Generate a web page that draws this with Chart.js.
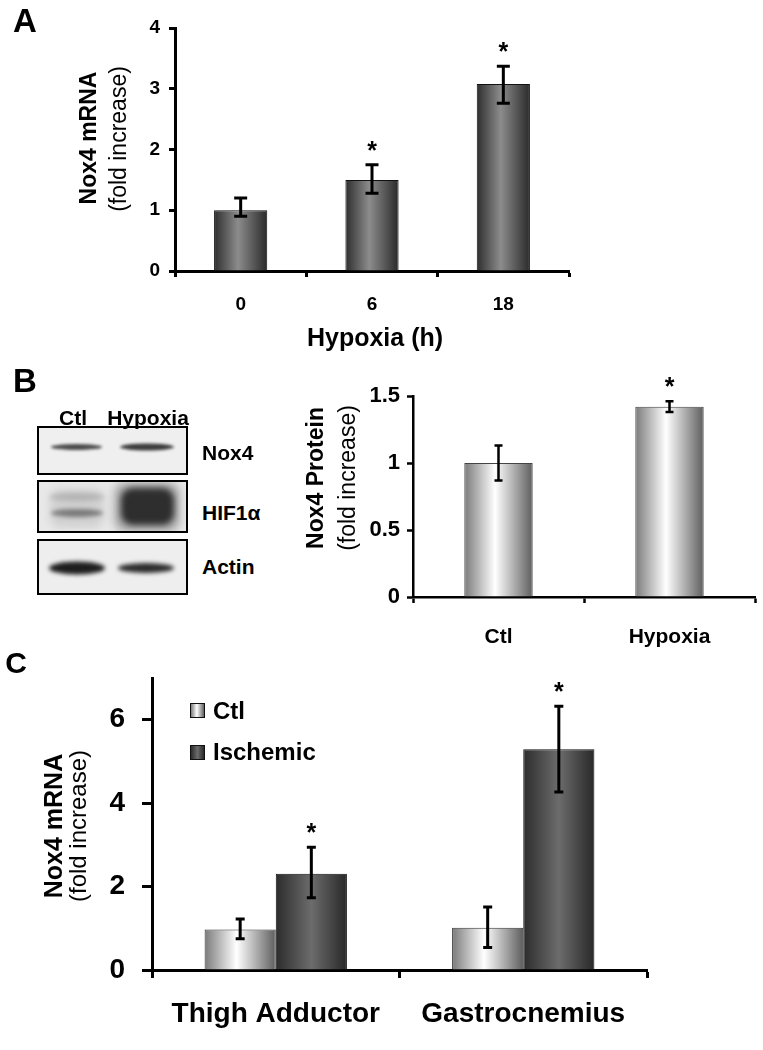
<!DOCTYPE html>
<html>
<head>
<meta charset="utf-8">
<script src="https://cdn.jsdelivr.net/npm/chart.js@4.4.1/dist/chart.umd.min.js"></script>
<style>
  body { margin: 0; background: #fff; font-family: "Liberation Sans", Arial, sans-serif; }
  #page { position: relative; width: 763px; height: 1050px; overflow: hidden; }
  .box { position: absolute; }
  .t { position: absolute; white-space: nowrap; line-height: 1; color: #000; transform: translate(-50%, -50%); }
  .b { font-weight: bold; }
  .rot { transform: translate(-50%, -50%) rotate(-90deg); }
  .sq { position: absolute; width: 13px; height: 13px; border: 1px solid #111; }
</style>
</head>
<body>
<div id="page">
  <div class="box" style="left:0;top:0;width:600px;height:340px"><canvas id="chartA"></canvas></div>
  <div class="box" style="left:300px;top:340px;width:463px;height:320px"><canvas id="chartB"></canvas></div>
  <div class="box" style="left:0;top:640px;width:700px;height:410px"><canvas id="chartC"></canvas></div>
  <canvas id="blot" width="200" height="200" style="position:absolute;left:0;top:400px"></canvas>

  <!-- panel letters -->
  <div class="t b" style="left:25px;top:20px;font-size:33px">A</div>
  <div class="t b" style="left:25px;top:380px;font-size:33px">B</div>
  <div class="t b" style="left:16px;top:663px;font-size:30px">C</div>

  <!-- panel A titles -->
  <div class="t b rot" style="left:88px;top:138px;font-size:23px">Nox4 mRNA</div>
  <div class="t rot" style="left:118px;top:139px;font-size:23px">(fold increase)</div>
  <div class="t b" style="left:375px;top:337px;font-size:25px">Hypoxia (h)</div>

  <!-- panel B blot labels and titles -->
  <div class="t b" style="left:73px;top:417px;font-size:21px">Ctl</div>
  <div class="t b" style="left:148px;top:417px;font-size:21px">Hypoxia</div>
  <div class="t b" style="left:202px;top:452px;font-size:21px;transform:translate(0,-50%)">Nox4</div>
  <div class="t b" style="left:202px;top:512px;font-size:21px;transform:translate(0,-50%)">HIF1α</div>
  <div class="t b" style="left:202px;top:566px;font-size:21px;transform:translate(0,-50%)">Actin</div>
  <div class="t b rot" style="left:315px;top:478px;font-size:23px">Nox4 Protein</div>
  <div class="t rot" style="left:347px;top:478px;font-size:23px">(fold increase)</div>

  <!-- panel C titles and legend -->
  <div class="t b rot" style="left:53px;top:826px;font-size:25px">Nox4 mRNA</div>
  <div class="t rot" style="left:78px;top:826px;font-size:24px">(fold increase)</div>
  <div class="sq" style="left:190px;top:703px;background:linear-gradient(to right,#7a7a7a,#fff 45%,#5e5e5e)"></div>
  <div class="t b" style="left:213px;top:711px;font-size:24px;transform:translate(0,-50%)">Ctl</div>
  <div class="sq" style="left:190px;top:745px;background:linear-gradient(to right,#2c2c2c,#6c6c6c 50%,#282828)"></div>
  <div class="t b" style="left:213px;top:752px;font-size:24px;transform:translate(0,-50%)">Ischemic</div>
</div>

<script>
const fontFam = '"Liberation Sans", Arial, sans-serif';

// A: Nox4 mRNA after hours of hypoxia
const hours = ['0', '6', '18'];
const mrnaFold = [1.0, 1.5, 3.08];
const mrnaHi = [1.2, 1.75, 3.37];
const mrnaLo = [0.9, 1.28, 2.76];
const mrnaStar = [false, true, true];
const ticksA = [0, 1, 2, 3, 4];
const tickLabelsA = ['0', '1', '2', '3', '4'];

// B: Nox4 protein
const groupsB = ['Ctl', 'Hypoxia'];
const proteinFold = [1.0, 1.42];
const proteinHi = [1.13, 1.46];
const proteinLo = [0.87, 1.38];
const proteinStar = [false, true];
const ticksB = [0, 0.5, 1, 1.5];
const tickLabelsB = ['0', '0.5', '1', '1.5'];

// C: Nox4 mRNA in muscle, control vs ischemic
const muscles = ['Thigh Adductor', 'Gastrocnemius'];
const ctlFold = [0.97, 1.01];
const ctlHi = [1.22, 1.51];
const ctlLo = [0.75, 0.54];
const ctlStar = [false, false];
const ischFold = [2.31, 5.29];
const ischHi = [2.94, 6.32];
const ischLo = [1.73, 4.27];
const ischStar = [true, true];
const ticksC = [0, 2, 4, 6];
const tickLabelsC = ['0', '2', '4', '6'];

const darkStops = [[0, '#2e2e2e'], [0.45, '#8c8c8c'], [1, '#2a2a2a']];
const lightStops = [[0, '#7a7a7a'], [0.45, '#ffffff'], [1, '#5e5e5e']];
const ischStops = [[0, '#2c2c2c'], [0.5, '#6c6c6c'], [1, '#282828']];

// gradient fill per bar + error bars + asterisks
function decor(o) {
  return {
    id: 'decor',
    beforeDatasetDraw(chart, args) {
      const ctx = chart.ctx;
      const stops = o.stops[args.index];
      args.meta.data.forEach(bar => {
        const g = ctx.createLinearGradient(bar.x - bar.width / 2, 0, bar.x + bar.width / 2, 0);
        stops.forEach(s => g.addColorStop(s[0], s[1]));
        bar.options.backgroundColor = g;
      });
    },
    afterDatasetsDraw(chart) {
      const ctx = chart.ctx, y = chart.scales.y;
      ctx.save();
      ctx.strokeStyle = '#000';
      ctx.fillStyle = '#000';
      ctx.lineWidth = o.errW;
      ctx.font = 'bold 25px ' + fontFam;
      ctx.textAlign = 'center';
      o.err.forEach((e, d) => {
        chart.getDatasetMeta(d).data.forEach((bar, i) => {
          const top = y.getPixelForValue(e.hi[i]);
          const bot = y.getPixelForValue(e.lo[i]);
          const c = o.cap / 2;
          ctx.beginPath();
          ctx.moveTo(bar.x, top); ctx.lineTo(bar.x, bot);
          ctx.moveTo(bar.x - c, top); ctx.lineTo(bar.x + c, top);
          ctx.moveTo(bar.x - c, bot); ctx.lineTo(bar.x + c, bot);
          ctx.stroke();
          if (e.star[i]) ctx.fillText('*', bar.x, top - 6);
        });
      });
      ctx.restore();
    }
  };
}

function barChart(id, o) {
  const tickFont = size => ({ family: fontFam, size: size, weight: 'bold' });
  return new Chart(document.getElementById(id), {
    type: 'bar',
    data: { labels: o.labels, datasets: o.datasets },
    options: {
      responsive: true,
      maintainAspectRatio: false,
      animation: false,
      events: [],
      layout: { padding: { top: o.padTop, right: o.padRight, left: 0, bottom: 0 } },
      plugins: { legend: { display: false }, tooltip: { enabled: false } },
      scales: {
        x: {
          grid: { drawOnChartArea: false, tickLength: o.xTick, tickWidth: o.axisW, tickColor: '#000', color: '#000' },
          border: { color: '#000', width: o.axisW },
          ticks: { color: '#000', padding: o.xPad, font: tickFont(o.xFont), maxRotation: 0, autoSkip: false },
          afterFit: s => { s.height = o.xH; }
        },
        y: {
          min: o.ticks[0],
          max: o.max,
          grid: { drawOnChartArea: false, tickLength: o.yTick, tickWidth: o.axisW, tickColor: '#000', color: '#000' },
          border: { color: '#000', width: o.axisW },
          ticks: { color: '#000', padding: o.yPad, font: tickFont(o.yFont),
                   callback: (v, i) => o.tickLabels[i] },
          afterBuildTicks: s => { s.ticks = o.ticks.map(v => ({ value: v })); },
          afterFit: s => { s.width = o.yW; }
        }
      }
    },
    plugins: [decor(o)]
  });
}

const flat = () => '#888';

barChart('chartA', {
  labels: hours,
  datasets: [{ data: mrnaFold, backgroundColor: flat, borderColor: '#111', borderWidth: 1,
               barPercentage: 0.405, categoryPercentage: 1 }],
  stops: [darkStops],
  err: [{ hi: mrnaHi, lo: mrnaLo, star: mrnaStar }],
  errW: 3, cap: 13,
  ticks: ticksA, tickLabels: tickLabelsA, max: 4,
  padTop: 28, padRight: 31, yW: 175, xH: 69,
  axisW: 3, xTick: 6, yTick: 6, xPad: 16, yPad: 9, xFont: 19, yFont: 19
});

barChart('chartB', {
  labels: groupsB,
  datasets: [{ data: proteinFold, backgroundColor: flat, borderColor: '#444', borderWidth: 1,
               barPercentage: 0.4, categoryPercentage: 1 }],
  stops: [lightStops],
  err: [{ hi: proteinHi, lo: proteinLo, star: proteinStar }],
  errW: 2.5, cap: 8,
  ticks: ticksB, tickLabels: tickLabelsB, max: 1.5,
  padTop: 56, padRight: 8, yW: 113, xH: 63,
  axisW: 2.5, xTick: 6, yTick: 6, xPad: 22, yPad: 7, xFont: 21, yFont: 22
});

barChart('chartC', {
  labels: muscles,
  datasets: [
    { data: ctlFold, backgroundColor: flat, borderColor: '#333', borderWidth: 1,
      barPercentage: 1, categoryPercentage: 0.575 },
    { data: ischFold, backgroundColor: flat, borderColor: '#111', borderWidth: 1,
      barPercentage: 1, categoryPercentage: 0.575 }
  ],
  stops: [lightStops, ischStops],
  err: [{ hi: ctlHi, lo: ctlLo, star: ctlStar }, { hi: ischHi, lo: ischLo, star: ischStar }],
  errW: 3, cap: 9,
  ticks: ticksC, tickLabels: tickLabelsC, max: 7,
  padTop: 38, padRight: 53, yW: 152, xH: 80,
  axisW: 3, xTick: 8, yTick: 10, xPad: 19, yPad: 17, xFont: 28, yFont: 28
});

// western blot picture (Nox4 / HIF1a / Actin)
function drawBlot() {
  const g = document.getElementById('blot').getContext('2d');
  g.translate(0, -400);
  const strips = [[427, 474, '#efefef'], [481, 532, '#e9e9e9'], [540, 594, '#eeeeee']];
  const band = (x0, x1, yc, h, color, blur) => {
    g.save();
    g.filter = 'blur(' + blur + 'px)';
    g.fillStyle = color;
    g.beginPath();
    g.ellipse((x0 + x1) / 2, yc, (x1 - x0) / 2, h / 2, 0, 0, Math.PI * 2);
    g.fill();
    g.restore();
  };
  const blob = (x0, x1, y0, y1, r, color, blur) => {
    g.save();
    g.filter = 'blur(' + blur + 'px)';
    g.fillStyle = color;
    g.beginPath();
    g.roundRect(x0, y0, x1 - x0, y1 - y0, r);
    g.fill();
    g.restore();
  };
  strips.forEach(([t, b, bg], k) => {
    g.save();
    g.beginPath();
    g.rect(38, t, 149, b - t);
    g.clip();
    g.fillStyle = bg;
    g.fillRect(38, t, 149, b - t);
    if (k === 0) {
      band(51, 102, 447, 6, '#4a4a4a', 1.5);
      band(120, 174, 447, 7, '#3c3c3c', 1.5);
    } else if (k === 1) {
      blob(50, 104, 489, 528, 10, '#d0d0d0', 4);
      band(50, 104, 497, 8, '#b4b4b4', 2.5);
      band(51, 103, 513, 8, '#7a7a7a', 2);
      blob(114, 180, 482, 532, 12, '#a8a8a8', 4);
      blob(121, 174, 488, 525, 12, '#2e2e2e', 3);
    } else {
      band(49, 105, 568, 13, '#1e1e1e', 2);
      band(118, 174, 568, 10, '#2c2c2c', 2);
    }
    g.restore();
    g.lineWidth = 2;
    g.strokeStyle = '#000';
    g.strokeRect(38, t, 149, b - t);
  });
}
drawBlot();
</script>
</body>
</html>
